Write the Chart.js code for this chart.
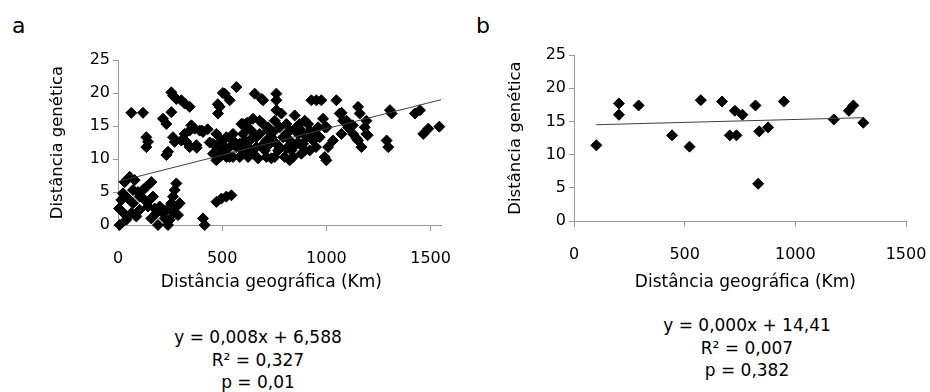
<!DOCTYPE html>
<html>
<head>
<meta charset="utf-8">
<script src="https://cdn.jsdelivr.net/npm/chart.js@4.4.0/dist/chart.umd.min.js"></script>
<style>
  body { margin: 0; background: #fff; width: 930px; height: 392px; overflow: hidden; position: relative; font-family: "DejaVu Sans", sans-serif; color: #000; }
  .box { position: absolute; top: 0; width: 465px; height: 300px; }
  .panel { position: absolute; top: 15px; font-size: 22px; line-height: 22px; }
  .stats { position: absolute; width: 240px; font-size: 17px; line-height: 22.5px; text-align: center; white-space: nowrap; }
</style>
</head>
<body>

<div class="panel" style="left:12px">a</div>
<div class="panel" style="left:476px">b</div>

<div class="box" style="left:0"><canvas id="chartA" width="465" height="300"></canvas></div>
<div class="box" style="left:465px"><canvas id="chartB" width="465" height="300"></canvas></div>

<div class="stats" style="left:138px; top:326px">y = 0,008x + 6,588<br>R² = 0,327<br>p = 0,01</div>
<div class="stats" style="left:627px; top:314px">y = 0,000x + 14,41<br>R² = 0,007<br>p = 0,382</div>

<script>
// tick labels
const ticksX = [0, 500, 1000, 1500];
const ticksY = [0, 5, 10, 15, 20, 25];

// panel a - geographic distance (km) vs genetic distance
const distA = [
  8, 5, 27, 16, 32, 56, 80, 48, 72, 64,
  88, 104, 120, 136, 160, 152, 168, 144, 184, 192,
  216, 232, 240, 248, 256, 264, 272, 280, 264, 280,
  296, 288, 224, 200, 176, 160, 104, 128, 40, 24,
  72, 96, 408, 416, 472, 496, 520, 544, 64, 120,
  136, 144, 136, 216, 232, 240, 232, 256, 264, 280,
  304, 256, 264, 272, 304, 328, 344, 320, 344, 320,
  344, 352, 376, 392, 408, 368, 378, 402, 456, 472,
  488, 480, 472, 496, 520, 536, 504, 552, 480, 488,
  512, 536, 568, 584, 584, 600, 616, 632, 624, 648,
  656, 696, 664, 680, 696, 712, 728, 744, 760, 760,
  760, 752, 776, 792, 784, 808, 824, 840, 848, 864,
  872, 888, 896, 904, 928, 952, 976, 920, 936, 984,
  992, 992, 1000, 1008, 1032, 1048, 1064, 1072, 1080, 1104,
  1128, 1152, 1160, 1152, 1168, 1184, 1192, 1192, 1289, 1297,
  1305, 1313, 1425, 1449, 1465, 1489, 1542, 552, 568, 600,
  648, 672, 696, 712, 736, 800, 808, 824, 840, 872,
  880, 856, 824, 808, 776, 752, 736, 648, 624, 608,
  552, 536, 512, 456, 968, 944, 912, 960, 1127, 1145,
  1198, 1097, 1073, 1001, 690, 503, 479, 440, 430, 620,
  584, 616, 664, 704, 768, 832, 896, 592, 720, 856,
  600, 640, 680, 720, 880, 920, 950, 700, 760, 520
];
const genA = [
  0, 2.5, 1.8, 3.8, 6.5, 7.3, 6.8, 4.0, 3.3, 1.8,
  1.3, 4.3, 5.3, 5.8, 6.5, 3.8, 4.3, 2.8, 1.8, 0,
  1.8, 2.3, 0, 0.8, 3.3, 4.3, 5.3, 6.3, 1.8, 2.8,
  3.3, 1.5, 1.0, 2.8, 2.5, 1.0, 2.3, 3.8, 0.8, 4.8,
  5.3, 5.0, 1.0, 0, 3.5, 4.0, 4.3, 4.5, 17, 17,
  13.3, 12.6, 11.8, 16.1, 15.3, 11.1, 10.6, 20.1, 19.6, 19.1,
  18.9, 17.1, 13.3, 12.6, 12.8, 12.6, 11.8, 18.4, 17.9, 13.8,
  14.3, 15.1, 12.1, 14.3, 14.1, 14.6, 11.7, 14.3, 10.8, 9.8,
  10.3, 11.8, 13.8, 12.8, 13.3, 11.8, 11.1, 10.3, 16.9, 17.9,
  19.9, 18.9, 20.9, 10.3, 11.8, 13.8, 14.8, 12.8, 10.3, 16.1,
  19.9, 18.9, 11.8, 13.8, 15.3, 10.3, 12.3, 14.1, 19.9, 18.9,
  17.4, 10.3, 11.8, 13.3, 16.9, 15.3, 12.8, 10.3, 16.6, 13.8,
  15.3, 12.3, 15.8, 13.3, 18.9, 18.9, 18.9, 14.3, 12.8, 16.1,
  14.8, 10.3, 9.8, 11.8, 12.8, 18.9, 16.9, 13.8, 15.8, 14.8,
  13.8, 17.9, 16.9, 12.8, 11.8, 14.8, 13.8, 15.8, 12.8, 11.8,
  17.4, 16.9, 16.9, 17.4, 13.8, 14.6, 14.9, 12.8, 11.8, 10.8,
  10.8, 10.1, 11.8, 12.8, 10.1, 10.3, 11.6, 9.8, 11.8, 12.3,
  14.3, 14.8, 14.3, 13.8, 14.8, 15.8, 13.3, 13.3, 11.8, 12.8,
  13.8, 10.3, 11.8, 12.3, 13.3, 13.8, 15.3, 14.8, 15.1, 13.1,
  13.6, 15.8, 17, 14.8, 19.1, 20, 18.3, 12.5, 14.5, 15.5,
  12.3, 11.3, 13.3, 11.3, 11.3, 11.3, 11.3, 15.3, 14.3, 12.3,
  15.3, 14.3, 15.8, 14.8, 10.8, 11.3, 11.8, 12.3, 12.3, 10.3
];
// linear trend of panel a (y = 0,008x + 6,588), end points
const trendAX = [0, 1550];
const trendAY = [6.588, 18.988];

// panel b
const distB = [101, 203, 203, 292, 443, 522, 573, 669, 704, 727, 734, 761, 820, 832, 837, 877, 948, 1174, 1242, 1262, 1307];
const genB  = [11.4, 17.7, 16.0, 17.4, 12.9, 11.2, 18.2, 18.0, 12.9, 16.6, 12.9, 16.0, 17.4, 5.6, 13.5, 14.1, 18.0, 15.3, 16.6, 17.4, 14.8];
const trendBX = [101, 1307];
const trendBY = [14.50, 15.56];

const FONT = '"DejaVu Sans", sans-serif';
const AXIS_GRAY = '#9a9a9a';

function scatterChart(id, xs, ys, tx, ty, g) {
  return new Chart(document.getElementById(id), {
    type: 'scatter',
    data: {
      datasets: [
        { // trend line, drawn on top
          data: tx.map((x, i) => ({ x: x, y: ty[i] })),
          showLine: true,
          borderColor: '#404040',
          borderWidth: 1,
          pointRadius: 0
        },
        {
          data: xs.map((x, i) => ({ x: x, y: ys[i] })),
          pointStyle: 'rectRot',
          pointRadius: 5.5,
          backgroundColor: '#000',
          borderColor: '#000',
          borderWidth: 1,
          clip: false
        }
      ]
    },
    options: {
      responsive: false,
      animation: false,
      events: [],
      layout: { padding: { left: 0, right: 24, top: g.top, bottom: 0 } },
      plugins: { legend: { display: false }, tooltip: { enabled: false } },
      scales: {
        x: {
          type: 'linear',
          bounds: 'data',
          min: 0,
          max: g.xMax,
          afterBuildTicks: s => { s.ticks = ticksX.map(v => ({ value: v })); },
          // fixed height, and no extra side room for the last label
          afterFit: s => { s.height = g.xh; s.paddingLeft = 0; s.paddingRight = 0; },
          grid: { drawOnChartArea: false, tickLength: 6, color: AXIS_GRAY },
          border: { color: AXIS_GRAY },
          ticks: { font: { family: FONT, size: 16 }, color: '#000', padding: g.xp, maxRotation: 0,
                   callback: v => String(v) },
          title: { display: true, text: g.xTitle, color: '#000',
                   font: { family: FONT, size: 17 }, padding: { top: 0, bottom: 7 } }
        },
        y: {
          type: 'linear',
          bounds: 'data',
          min: 0,
          max: 25,
          afterBuildTicks: s => { s.ticks = ticksY.map(v => ({ value: v })); },
          afterFit: s => { s.width = g.yw; },
          grid: { drawOnChartArea: false, tickLength: 5, color: AXIS_GRAY },
          border: { color: AXIS_GRAY },
          ticks: { font: { family: FONT, size: 16 }, color: '#000', padding: 3,
                   callback: v => String(v) },
          title: { display: true, text: 'Distância genética', color: '#000',
                   font: { family: FONT, size: 16.5 }, padding: { top: g.yt, bottom: 0 } }
        }
      }
    }
  });
}

// spaces nudge the x title off the plot centre, as in the original
scatterChart('chartA', distA, genA, trendAX, trendAY,
  { top: 60, xh: 75, yw: 118, yt: 48, xp: 18, xMax: 1550, xTitle: 'Distância geográfica (Km)   ' });
scatterChart('chartB', distB, genB, trendBX, trendBY,
  { top: 55, xh: 79, yw: 109, yt: 41, xp: 18, xMax: 1500, xTitle: '  Distância geográfica (Km)' });
</script>
</body>
</html>
